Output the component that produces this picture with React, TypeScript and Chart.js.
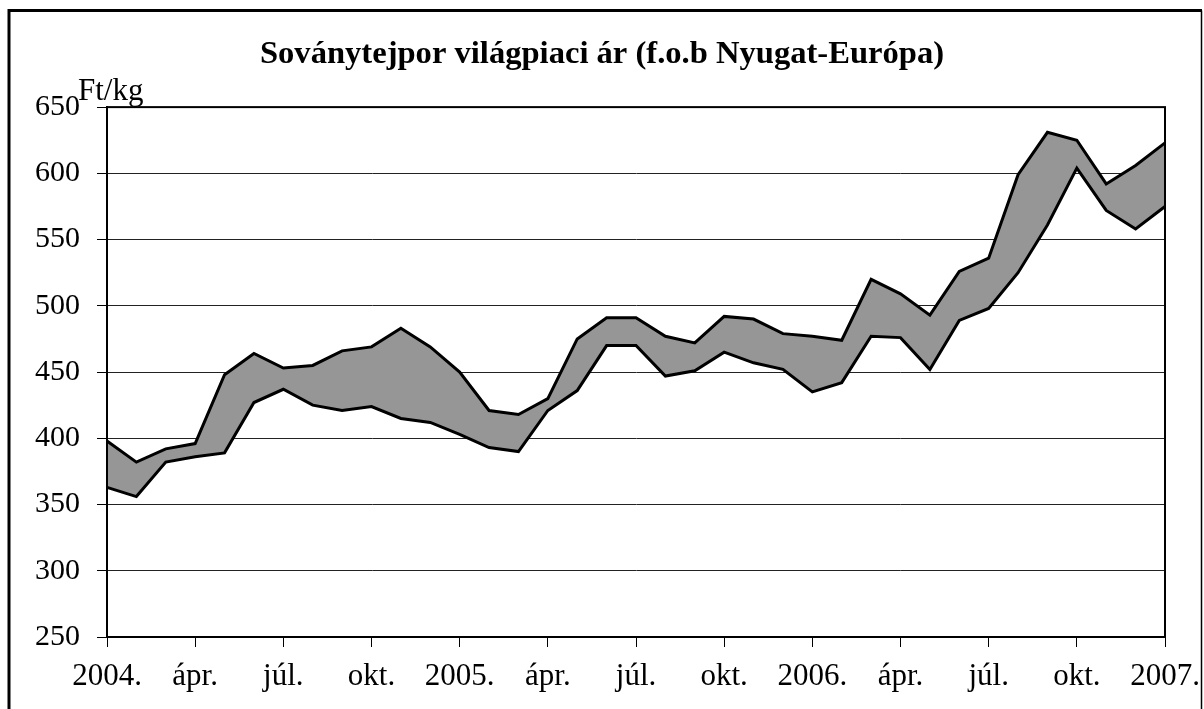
import React, { useEffect, useRef } from "react";
import { Chart, registerables } from "chart.js";

Chart.register(...registerables);

const TITLE = "Soványtejpor világpiaci ár (f.o.b Nyugat-Európa)";
const UNIT_LABEL = "Ft/kg";

const months: string[] = [
  "2004.", "febr.", "márc.", "ápr.", "máj.", "jún.", "júl.", "aug.", "szept.", "okt.", "nov.", "dec.",
  "2005.", "febr.", "márc.", "ápr.", "máj.", "jún.", "júl.", "aug.", "szept.", "okt.", "nov.", "dec.",
  "2006.", "febr.", "márc.", "ápr.", "máj.", "jún.", "júl.", "aug.", "szept.", "okt.", "nov.", "dec.",
  "2007.",
];

const upperPrice: number[] = [
  398, 382, 392, 396, 448, 464, 453, 455, 466, 469, 483, 469,
  450, 421, 418, 430, 475, 491, 491, 477, 472, 492, 490, 479,
  477, 474, 520, 509, 493, 526, 536, 599, 631, 625, 592, 606,
  623,
];

const lowerPrice: number[] = [
  363, 356, 382, 386, 389, 427, 437, 425, 421, 424, 415, 412,
  403, 393, 390, 421, 436, 470, 470, 447, 451, 465, 457, 452,
  435, 442, 477, 476, 452, 489, 498, 525, 561, 604, 572, 558,
  575,
];

const Y_MIN = 250;
const Y_MAX = 650;
const Y_STEP = 50;

const SERIF = "'Liberation Serif', 'Times New Roman', serif";

const framePlugin = {
  id: "frame",
  beforeDraw(chart: any) {
    const ctx = chart.ctx;
    ctx.save();
    ctx.fillStyle = "#fff";
    ctx.fillRect(0, 0, chart.width, chart.height);
    ctx.restore();
  },
  afterDraw(chart: any) {
    const ctx = chart.ctx;
    const a = chart.chartArea;
    ctx.save();
    // plot area border
    ctx.strokeStyle = "#000";
    ctx.lineWidth = 2;
    ctx.strokeRect(a.left, a.top, a.right - a.left, a.bottom - a.top);
    // outer frame
    ctx.lineWidth = 3;
    ctx.beginPath();
    ctx.moveTo(9, 800);
    ctx.lineTo(9, 10.5);
    ctx.lineTo(1202, 10.5);
    ctx.stroke();
    ctx.lineWidth = 1.5;
    ctx.beginPath();
    ctx.moveTo(1201.5, 10.5);
    ctx.lineTo(1201.5, 800);
    ctx.stroke();
    // unit label
    ctx.fillStyle = "#000";
    ctx.font = `31px ${SERIF}`;
    ctx.textAlign = "left";
    ctx.textBaseline = "alphabetic";
    ctx.fillText(UNIT_LABEL, 78, 100);
    ctx.restore();
  },
};

export default function App() {
  const ref = useRef<HTMLCanvasElement | null>(null);

  useEffect(() => {
    if (!ref.current) return;
    const chart = new Chart(ref.current, {
      type: "line",
      data: {
        labels: months,
        datasets: [
          {
            label: "max",
            data: upperPrice,
            borderColor: "#000",
            borderWidth: 3,
            backgroundColor: "#969696",
            fill: "+1",
            pointRadius: 0,
            tension: 0,
          },
          {
            label: "min",
            data: lowerPrice,
            borderColor: "#000",
            borderWidth: 3,
            backgroundColor: "#969696",
            fill: false,
            pointRadius: 0,
            tension: 0,
          },
        ],
      },
      options: {
        responsive: false,
        animation: false,
        layout: { padding: 0 },
        plugins: {
          legend: { display: false },
          tooltip: { enabled: false },
          filler: { drawTime: "beforeDatasetsDraw" },
          title: {
            display: true,
            text: TITLE,
            color: "#000",
            font: { family: SERIF, size: 32.6, weight: "bold" },
            padding: { top: 35, bottom: 33 },
          },
        },
        scales: {
          x: {
            type: "category",
            offset: false,
            afterFit: (scale: any) => {
              scale.height = 72;
              scale.paddingLeft = 0;
              scale.paddingRight = 39;
            },
            grid: {
              drawOnChartArea: false,
              drawTicks: true,
              tickLength: 10,
              tickColor: (ctx: any) => (ctx.index % 3 === 0 ? "#000" : "rgba(0,0,0,0)"),
              tickWidth: 1,
            },
            border: { display: true, color: "#000", width: 2 },
            ticks: {
              autoSkip: false,
              maxRotation: 0,
              minRotation: 0,
              padding: 11,
              color: "#000",
              font: { family: SERIF, size: 31 },
              callback: (_v: any, i: number) => (i % 3 === 0 ? months[i] : ""),
            },
          },
          y: {
            min: Y_MIN,
            max: Y_MAX,
            afterFit: (scale: any) => {
              scale.width = 107;
            },
            grid: {
              color: "#222",
              lineWidth: 1,
              drawTicks: true,
              tickLength: 10,
              tickColor: "#000",
            },
            border: { display: true, color: "#000", width: 2 },
            ticks: {
              stepSize: Y_STEP,
              padding: 17,
              color: "#000",
              font: { family: SERIF, size: 30 },
            },
          },
        },
      },
      plugins: [framePlugin],
    } as any);
    return () => chart.destroy();
  }, []);

  return (
    <div style={{ position: "fixed", left: 0, top: 0, width: 1204, height: 709 }}>
      <canvas ref={ref} width={1204} height={709} style={{ display: "block" }} />
    </div>
  );
}
